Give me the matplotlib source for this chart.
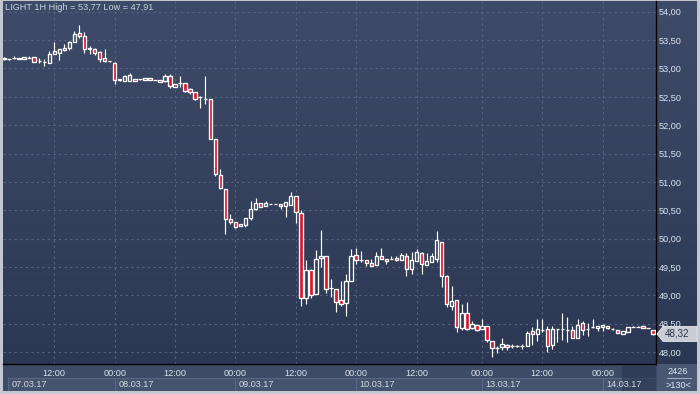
import matplotlib
matplotlib.use('Agg')
import matplotlib.pyplot as plt
import numpy as np
from matplotlib.patches import Rectangle, Polygon
from matplotlib.colors import LinearSegmentedColormap

# hourly candles
opens = [53.19, 53.16, 53.18, 53.16, 53.17, 53.19, 53.20, 53.13, 53.12, 53.09,
         53.26, 53.27, 53.33, 53.37, 53.47, 53.62, 53.57, 53.34, 53.34, 53.29,
         53.18, 53.13, 53.09, 52.79, 52.78, 52.78, 52.81, 52.81, 52.80, 52.83,
         52.79, 52.80, 52.78, 52.86, 52.68, 52.74, 52.74, 52.63, 52.58, 52.49,
         52.47, 52.46, 51.76, 51.13, 50.88, 50.35, 50.30, 50.23, 50.24, 50.36,
         50.53, 50.62, 50.57, 50.61, 50.61, 50.61, 50.57, 50.60, 50.75, 50.46,
         48.95, 49.45, 49.02, 49.66, 49.70, 49.13, 49.11, 48.91, 48.87, 49.25,
         49.72, 49.62, 49.63, 49.57, 49.53, 49.70, 49.65, 49.64, 49.66, 49.63,
         49.70, 49.47, 49.60, 49.74, 49.54, 49.59, 49.65, 49.94, 49.34, 48.82,
         48.92, 48.42, 48.69, 48.42, 48.47, 48.41, 48.46, 48.19, 48.08, 48.09,
         48.13, 48.11, 48.11, 48.11, 48.11, 48.37, 48.32, 48.39, 48.41, 48.13,
         48.41, 48.41, 48.39, 48.39, 48.25, 48.51, 48.41, 48.44, 48.42, 48.44,
         48.46, 48.41, 48.39, 48.32, 48.35, 48.45, 48.45, 48.46, 48.43, 48.39]
highs = [53.20, 53.17, 53.22, 53.19, 53.20, 53.22, 53.20, 53.18, 53.16, 53.31,
         53.46, 53.35, 53.43, 53.49, 53.66, 53.77, 53.64, 53.40, 53.37, 53.30,
         53.34, 53.14, 53.12, 52.82, 52.88, 52.92, 52.81, 52.82, 52.83, 52.83,
         52.79, 52.80, 52.90, 52.91, 52.73, 52.86, 52.74, 52.66, 52.58, 52.52,
         52.87, 52.46, 51.76, 51.22, 50.88, 50.43, 50.30, 50.26, 50.37, 50.67,
         50.72, 50.62, 50.67, 50.61, 50.61, 50.61, 50.64, 50.82, 50.75, 50.50,
         49.63, 49.47, 49.80, 50.16, 49.70, 49.28, 49.11, 49.25, 49.38, 49.81,
         49.84, 49.79, 49.63, 49.64, 49.76, 49.83, 49.65, 49.69, 49.70, 49.74,
         49.75, 49.77, 49.81, 49.76, 49.74, 49.74, 50.13, 49.94, 49.36, 49.16,
         48.92, 48.84, 48.89, 48.55, 48.47, 48.58, 48.46, 48.19, 48.11, 48.25,
         48.15, 48.15, 48.13, 48.15, 48.38, 48.44, 48.58, 48.58, 48.46, 48.46,
         48.41, 48.69, 48.61, 48.46, 48.58, 48.55, 48.52, 48.58, 48.46, 48.48,
         48.46, 48.43, 48.39, 48.38, 48.45, 48.46, 48.46, 48.46, 48.43, 48.39]
lows = [53.15, 53.15, 53.17, 53.16, 53.17, 53.18, 53.11, 53.09, 53.05, 53.09,
        53.25, 53.15, 53.31, 53.33, 53.47, 53.53, 53.28, 53.25, 53.24, 53.12,
        53.11, 53.11, 52.72, 52.78, 52.78, 52.78, 52.78, 52.80, 52.80, 52.80,
        52.79, 52.76, 52.76, 52.65, 52.68, 52.68, 52.58, 52.55, 52.45, 52.31,
        52.37, 51.76, 51.11, 50.88, 50.08, 50.25, 50.18, 50.23, 50.20, 50.33,
        50.50, 50.56, 50.57, 50.61, 50.61, 50.52, 50.39, 50.59, 50.28, 48.82,
        48.84, 48.95, 49.02, 49.50, 49.05, 48.98, 48.70, 48.81, 48.63, 49.25,
        49.55, 49.59, 49.52, 49.51, 49.53, 49.64, 49.55, 49.64, 49.60, 49.63,
        49.34, 49.37, 49.60, 49.38, 49.54, 49.59, 49.59, 49.14, 48.80, 48.75,
        48.35, 48.39, 48.39, 48.40, 48.37, 48.40, 48.17, 47.91, 47.99, 48.03,
        48.04, 48.07, 48.09, 48.06, 48.10, 48.12, 48.19, 48.36, 48.01, 48.05,
        48.17, 48.21, 48.17, 48.24, 48.25, 48.31, 48.28, 48.42, 48.38, 48.37,
        48.40, 48.39, 48.33, 48.32, 48.35, 48.45, 48.45, 48.42, 48.43, 48.31]
closes = [53.16, 53.16, 53.18, 53.19, 53.20, 53.19, 53.11, 53.13, 53.12, 53.25,
          53.31, 53.34, 53.37, 53.47, 53.61, 53.58, 53.34, 53.36, 53.27, 53.16,
          53.13, 53.13, 52.79, 52.81, 52.87, 52.89, 52.78, 52.81, 52.83, 52.80,
          52.79, 52.76, 52.87, 52.69, 52.73, 52.74, 52.60, 52.58, 52.47, 52.49,
          52.47, 51.76, 51.14, 50.90, 50.35, 50.29, 50.20, 50.26, 50.37, 50.53,
          50.62, 50.56, 50.63, 50.61, 50.61, 50.57, 50.64, 50.76, 50.47, 48.95,
          49.44, 49.01, 49.65, 49.70, 49.11, 49.13, 48.88, 48.84, 49.26, 49.70,
          49.62, 49.62, 49.57, 49.51, 49.70, 49.64, 49.60, 49.64, 49.62, 49.72,
          49.47, 49.63, 49.76, 49.56, 49.60, 49.69, 49.97, 49.34, 48.85, 48.90,
          48.44, 48.69, 48.41, 48.49, 48.39, 48.46, 48.22, 48.07, 48.08, 48.15,
          48.09, 48.11, 48.11, 48.11, 48.34, 48.32, 48.41, 48.39, 48.11, 48.41,
          48.41, 48.41, 48.39, 48.25, 48.48, 48.39, 48.41, 48.44, 48.46, 48.48,
          48.42, 48.41, 48.33, 48.38, 48.45, 48.45, 48.45, 48.42, 48.43, 48.32]

time_ticks = [10, 22, 34, 46, 58, 70, 82, 95, 107, 119]
time_labels = ['12:00', '00:00', '12:00', '00:00', '12:00', '00:00',
               '12:00', '00:00', '12:00', '00:00']
date_starts = [0.8, 22, 46, 70, 95, 119]
date_labels = ['07.03.17', '08.03.17', '09.03.17', '10.03.17', '13.03.17', '14.03.17']
price_ticks = [48.0, 48.5, 49.0, 49.5, 50.0, 50.5, 51.0, 51.5, 52.0, 52.5, 53.0, 53.5, 54.0]

W, H = 700, 394
FONT = 'Liberation Sans'
FS = 6.6
plt.rcParams['font.family'] = [FONT, 'DejaVu Sans']

def box(x0, y0, x1, y1):
    # pixel box (top-left origin) -> figure fractions
    return [x0 / W, 1 - y1 / H, (x1 - x0) / W, (y1 - y0) / H]

fig = plt.figure(figsize=(W / 100, H / 100), dpi=100, facecolor='#c3c7cf')

# dark panel + gradient behind the plot and right axis
fig.patches.append(Rectangle((3 / W, 3 / H), 694 / W, 390 / H, transform=fig.transFigure,
                             facecolor='#3e4b67', edgecolor='none', zorder=-10))
bg = fig.add_axes(box(3, 1, 697, 364))
grad = LinearSegmentedColormap.from_list('bg', ['#3e4b68', '#2c3853'])
bg.imshow(np.linspace(0, 1, 256).reshape(-1, 1), aspect='auto', cmap=grad,
          extent=[0, 1, 0, 1])
bg.set_axis_off()

ax = fig.add_axes(box(3, 1, 656, 364))
ax.patch.set_alpha(0)
o = np.array(opens)
c = np.array(closes)
hi = np.array(highs)
lo = np.array(lows)
idx = np.arange(len(o))
up = c >= o
top = np.maximum(o, c)
bot = np.minimum(o, c)

ax.vlines(idx, top, hi, color='white', lw=0.85, zorder=3)
ax.vlines(idx, lo, bot, color='white', lw=0.85, zorder=3)
ax.bar(idx[up], (top - bot)[up], bottom=bot[up], width=0.68, facecolor='none',
       edgecolor='white', lw=0.95, zorder=4)
ax.bar(idx[~up], (top - bot)[~up], bottom=bot[~up], width=0.68, facecolor='#e2122c',
       edgecolor='white', lw=0.95, zorder=4)

ax.set_xlim(-0.2, 129.6)
ax.set_ylim(47.79, 54.19)
ax.set_yticks(price_ticks)
ax.set_yticklabels([f'{v:.2f}'.replace('.', ',') for v in price_ticks])
ax.set_xticks(time_ticks)
ax.grid(color='#58647f', ls=(0, (2, 3)), lw=0.8)
ax.set_axisbelow(True)
ax.yaxis.tick_right()
ax.tick_params(axis='y', length=0, pad=2.2, labelsize=FS, labelcolor='#dbe3ef')
ax.tick_params(axis='x', length=0, labelbottom=False)
for s in ['top', 'left']:
    ax.spines[s].set_visible(False)
for s in ['right', 'bottom']:
    ax.spines[s].set_color('black')
    ax.spines[s].set_linewidth(1.0)

# bottom time/date strip
axb = fig.add_axes(box(3, 364.5, 656, 391))
axb.set_facecolor('#3e4b67')
axb.set_xlim(ax.get_xlim())
axb.set_ylim(26.5, 0)
axb.set_axis_off()
for t, lab in zip(time_ticks, time_labels):
    axb.text(t, 8.5, lab, ha='center', va='center', fontsize=FS, color='#dbe3ef')
ends = date_starts[1:] + [ax.get_xlim()[1]]
for s, e, lab in zip(date_starts, ends, date_labels):
    axb.add_patch(Rectangle((s, 13.5), e - s, 14, facecolor='#46536f',
                            edgecolor='#5b6783', lw=0.8))
    axb.text(s + 0.7, 20, lab, ha='left', va='center', fontsize=FS, color='#d4d9e2')
# darker overlay at the right end of the strip
axb.add_patch(Rectangle((122.8, 0), ax.get_xlim()[1] - 122.8, 26.5,
                        facecolor='#27334c', alpha=0.55, edgecolor='none'))

# bottom-right counter box
fig.patches.append(Rectangle((657 / W, 3 / H), 40 / W, 27 / H, transform=fig.transFigure,
                             facecolor='#4a5773', edgecolor='none', zorder=1))
fig.text(678 / W, 1 - 371.5 / H, '2426', ha='center', va='center', fontsize=FS,
         color='#e0e6ef')
fig.text(678 / W, 1 - 385 / H, '>130<', ha='center', va='center', fontsize=FS,
         color='#e0e6ef')
fig.add_artist(plt.Line2D([667 / W, 691 / W], [1 - 378 / H, 1 - 378 / H],
                          color='#b6bfcd', lw=0.6))

# last price tag
fig.canvas.draw()
ypix = ax.transData.transform((0, c[-1]))[1]
tag = np.array([[657, ypix], [663, ypix + 7.5], [697, ypix + 7.5],
                [697, ypix - 7.5], [663, ypix - 7.5]])
fig.patches.append(Polygon(tag / [W, H], closed=True, transform=fig.transFigure,
                           facecolor='#c9cdd5', edgecolor='#e4e6ea', lw=0.6, zorder=5))
fig.text(665 / W, ypix / H, f'{c[-1]:.2f}'.replace('.', ','), ha='left', va='center',
         fontsize=FS + 0.5, color='#2a3246', zorder=6)

# title
fig.text(5 / W, 1 - 8 / H,
         'LIGHT 1H High = {} Low = {}'.format(f'{hi.max():.2f}'.replace('.', ','),
                                              f'{lo.min():.2f}'.replace('.', ',')),
         ha='left', va='center', fontsize=FS, color='#c9d1dd')

fig.savefig('out.png', dpi=100, facecolor=fig.get_facecolor())
